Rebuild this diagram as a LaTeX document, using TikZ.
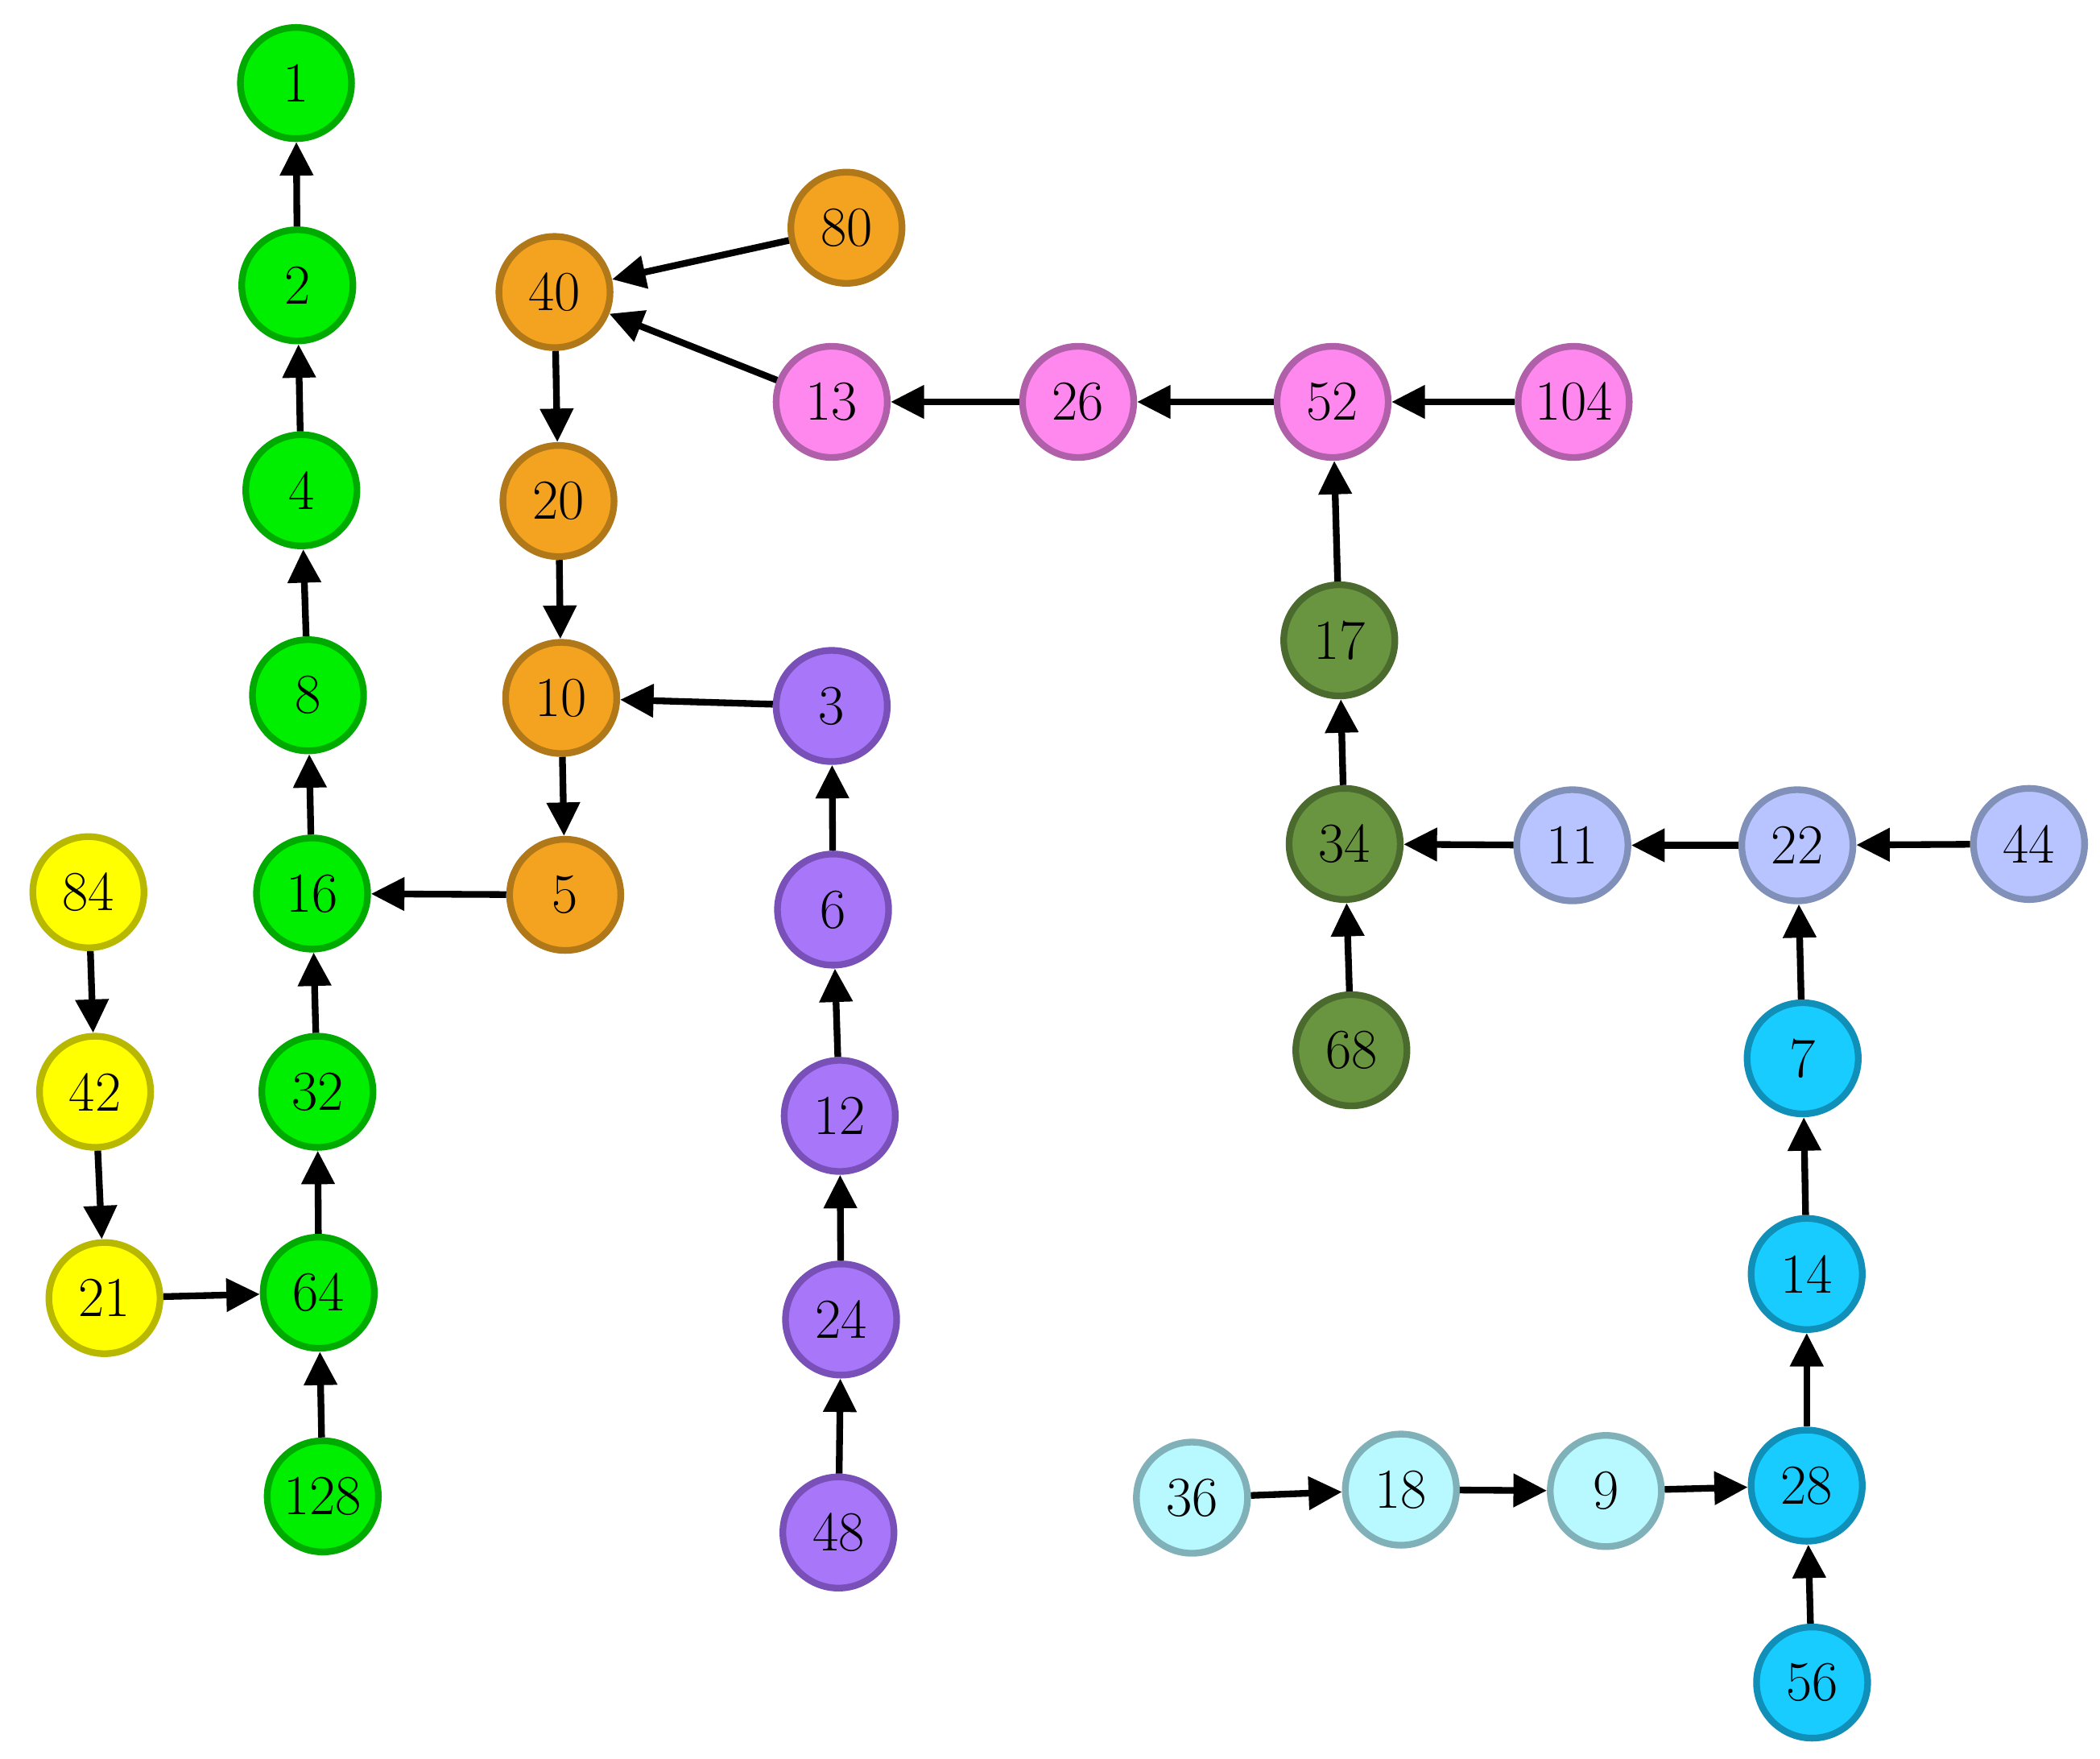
\documentclass[tikz,border=0pt]{standalone}
\usetikzlibrary{arrows.meta}
\definecolor{gF}{HTML}{00EE00}\definecolor{gD}{HTML}{00AA00}
\definecolor{yF}{HTML}{FFFF00}\definecolor{yD}{HTML}{B8B800}
\definecolor{oF}{HTML}{F4A321}\definecolor{oD}{HTML}{B07818}
\definecolor{pF}{HTML}{FF88EE}\definecolor{pD}{HTML}{B060A8}
\definecolor{vF}{HTML}{A876F8}\definecolor{vD}{HTML}{7850B8}
\definecolor{olF}{HTML}{6A9540}\definecolor{olD}{HTML}{4A6A2E}
\definecolor{lF}{HTML}{B8C4FF}\definecolor{lD}{HTML}{8090B8}
\definecolor{cF}{HTML}{18CCFF}\definecolor{cD}{HTML}{1090B8}
\definecolor{kF}{HTML}{B8F8FF}\definecolor{kD}{HTML}{80B0B8}
\tikzset{
 nd/.style={circle,minimum size=1.66cm,inner sep=0pt,line width=0.1cm,font=\fontsize{24}{28}\selectfont},
 G/.style={nd,fill=gF,draw=gD}, Y/.style={nd,fill=yF,draw=yD}, O/.style={nd,fill=oF,draw=oD},
 P/.style={nd,fill=pF,draw=pD}, V/.style={nd,fill=vF,draw=vD}, L/.style={nd,fill=olF,draw=olD},
 B/.style={nd,fill=lF,draw=lD}, C/.style={nd,fill=cF,draw=cD}, K/.style={nd,fill=kF,draw=kD},
 ed/.style={line width=0.1cm,-{Triangle[length=0.5cm,width=0.48cm]}}
}
\begin{document}
\begin{tikzpicture}[x=0.02cm,y=-0.02cm]
\useasboundingbox (0,0) rectangle (1568,1313);
\node[G] (n1) at (221,62) {1};
\node[G] (n2) at (222,213) {2};
\node[G] (n4) at (225,366) {4};
\node[G] (n8) at (230,519) {8};
\node[G] (n16) at (233,667) {16};
\node[G] (n32) at (237,815) {32};
\node[G] (n64) at (238,965) {64};
\node[G] (n128) at (241,1117) {128};
\node[Y] (n84) at (66,666) {84};
\node[Y] (n42) at (71,815) {42};
\node[Y] (n21) at (78,969) {21};
\node[O] (n40) at (414,218) {40};
\node[O] (n80) at (632,170) {80};
\node[O] (n20) at (417,374) {20};
\node[O] (n10) at (419,521) {10};
\node[O] (n5) at (422,668) {5};
\node[P] (n13) at (621,300) {13};
\node[P] (n26) at (805,300) {26};
\node[P] (n52) at (995,300) {52};
\node[P] (n104) at (1175,300) {104};
\node[V] (n3) at (621,527) {3};
\node[V] (n6) at (622,679) {6};
\node[V] (n12) at (627,833) {12};
\node[V] (n24) at (628,985) {24};
\node[V] (n48) at (626,1144) {48};
\node[L] (n17) at (1000,478) {17};
\node[L] (n34) at (1004,630) {34};
\node[L] (n68) at (1009,784) {68};
\node[B] (n11) at (1174,631) {11};
\node[B] (n22) at (1342,631) {22};
\node[B] (n44) at (1515,630) {44};
\node[C] (n7) at (1346,790) {7};
\node[C] (n14) at (1349,951) {14};
\node[C] (n28) at (1349,1109) {28};
\node[C] (n56) at (1353,1256) {56};
\node[K] (n36) at (890,1118) {36};
\node[K] (n18) at (1046,1112) {18};
\node[K] (n9) at (1199,1113) {9};
\foreach \a/\b in {2/1,4/2,8/4,16/8,32/16,64/32,128/64,84/42,42/21,21/64,80/40,13/40,40/20,20/10,3/10,10/5,5/16,26/13,52/26,104/52,17/52,34/17,68/34,11/34,22/11,44/22,7/22,14/7,28/14,56/28,36/18,18/9,9/28,6/3,12/6,24/12,48/24}
  \draw[ed] (n\a) -- (n\b);
\end{tikzpicture}
\end{document}
